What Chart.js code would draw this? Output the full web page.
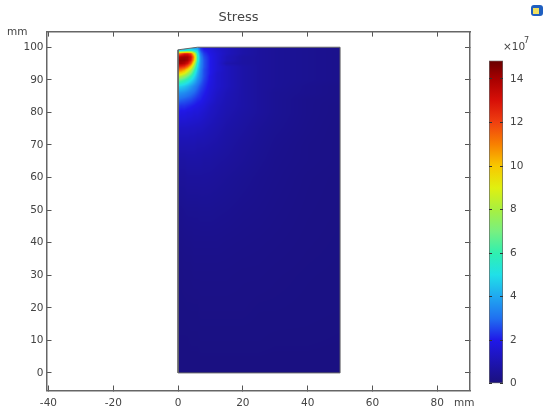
<!DOCTYPE html>
<html>
<head>
<meta charset="utf-8">
<script src="https://cdn.jsdelivr.net/npm/chart.js@4"></script>
<style>
  html, body { margin: 0; padding: 0; background: #fff; }
  canvas { position: absolute; filter: blur(0.4px); }
  #grafico { left: 0; top: 0; }
  #barra { left: 480px; top: 30px; }
  #logo { position: absolute; left: 531px; top: 5px; width: 12px; height: 11px; border-radius: 3px; background: #1f5fc0; filter: blur(0.6px); }
  #logo i { position: absolute; left: 2px; top: 3px; width: 6px; height: 6px; background: #f0e060; }
</style>
</head>
<body>
<canvas id="grafico" width="550" height="411"></canvas>
<canvas id="barra" width="70" height="370"></canvas>
<div id="logo"><i></i></div>
<script>
const xTicks = [-40, -20, 0, 20, 40, 60, 80];
const yTicks = [0, 10, 20, 30, 40, 50, 60, 70, 80, 90, 100];
const barTicks = [0, 2, 4, 6, 8, 10, 12, 14];
const barMax = 14.85;

// contorno da peca, em mm
const contornoX = [0, 50, 50, 6, 0, 0];
const contornoY = [0, 0, 100, 100, 99.2, 0];

// tensao (x 10^7), linhas de cima para baixo
const malhaX = [0, 1, 2, 3, 4, 5, 6, 7, 8, 10, 12, 15, 20, 25, 30, 40, 50];
const malhaY = [100, 99, 98, 97, 96, 95, 94, 93, 92, 91, 90, 88, 86, 84, 82, 80, 75, 70, 65, 60, 50, 40, 30, 20, 10, 0];
const tensao = [
  [4, 4, 4, 4, 4, 3.5, 3.5, 2.2, 1.8, 1.6, 1.4, 1.2, 0.8, 0.6, 0.5, 0.4, 0.3],
  [5, 5, 5, 5.5, 5.5, 5, 4.5, 2.6, 2.1, 1.8, 1.5, 1.2, 0.8, 0.6, 0.5, 0.4, 0.3],
  [11, 12, 12.8, 12.8, 12, 9.2, 5.5, 3.1, 2.4, 1.9, 1.6, 1.2, 0.8, 0.6, 0.5, 0.4, 0.3],
  [13.6, 14, 14.1, 14, 13.2, 10.5, 6, 3.4, 2.6, 2, 1.6, 1.1, 0.7, 0.6, 0.5, 0.4, 0.3],
  [14.3, 14.3, 14.3, 14, 12.8, 10, 5.8, 3.5, 2.7, 2, 1.6, 1.1, 0.7, 0.6, 0.5, 0.4, 0.3],
  [14, 14, 13.7, 13, 11.5, 8.5, 5.2, 3.5, 2.7, 2, 1.6, 0.9, 0.7, 0.6, 0.5, 0.4, 0.3],
  [12.7, 12.5, 12.2, 11.2, 9.6, 7.2, 4.9, 3.4, 2.7, 2, 1.6, 1.2, 0.8, 0.6, 0.5, 0.4, 0.3],
  [11.2, 11, 10.4, 9.3, 8, 6.2, 4.5, 3.3, 2.6, 2, 1.6, 1.2, 0.8, 0.6, 0.5, 0.4, 0.3],
  [9.9, 9.6, 9, 8, 6.9, 5.5, 4.2, 3.2, 2.6, 2, 1.5, 1.2, 0.8, 0.6, 0.5, 0.4, 0.3],
  [8.3, 8, 7.4, 6.7, 5.9, 4.9, 3.9, 3.1, 2.6, 1.9, 1.5, 1.2, 0.8, 0.6, 0.5, 0.4, 0.3],
  [6.9, 6.6, 6.2, 5.7, 5.1, 4.4, 3.6, 3, 2.5, 1.9, 1.5, 1.2, 0.8, 0.6, 0.5, 0.4, 0.3],
  [4.8, 4.7, 4.5, 4.2, 3.8, 3.4, 3, 2.6, 2.3, 1.8, 1.5, 1.2, 0.8, 0.6, 0.5, 0.35, 0.25],
  [3.7, 3.6, 3.5, 3.3, 3.1, 2.9, 2.6, 2.3, 2.1, 1.7, 1.4, 1.1, 0.8, 0.6, 0.45, 0.35, 0.25],
  [3, 2.9, 2.8, 2.7, 2.6, 2.4, 2.2, 2.1, 1.9, 1.6, 1.3, 1.05, 0.8, 0.6, 0.45, 0.3, 0.25],
  [2.4, 2.3, 2.3, 2.2, 2.1, 2, 1.9, 1.8, 1.7, 1.4, 1.2, 1, 0.8, 0.6, 0.45, 0.3, 0.22],
  [2, 1.9, 1.9, 1.8, 1.8, 1.7, 1.7, 1.6, 1.5, 1.3, 1.15, 0.95, 0.75, 0.6, 0.45, 0.3, 0.22],
  [1.3, 1.3, 1.3, 1.3, 1.25, 1.25, 1.2, 1.2, 1.15, 1.05, 0.95, 0.8, 0.65, 0.5, 0.4, 0.28, 0.2],
  [0.95, 0.95, 0.95, 0.95, 0.95, 0.95, 0.9, 0.9, 0.9, 0.85, 0.8, 0.7, 0.55, 0.45, 0.35, 0.25, 0.2],
  [0.7, 0.7, 0.7, 0.75, 0.75, 0.75, 0.75, 0.75, 0.7, 0.7, 0.65, 0.6, 0.5, 0.4, 0.32, 0.25, 0.2],
  [0.55, 0.55, 0.55, 0.6, 0.6, 0.6, 0.6, 0.6, 0.6, 0.58, 0.55, 0.5, 0.42, 0.35, 0.3, 0.22, 0.18],
  [0.35, 0.35, 0.38, 0.4, 0.4, 0.4, 0.4, 0.42, 0.42, 0.42, 0.4, 0.38, 0.33, 0.3, 0.26, 0.2, 0.17],
  [0.25, 0.25, 0.27, 0.28, 0.28, 0.3, 0.3, 0.3, 0.3, 0.3, 0.3, 0.28, 0.26, 0.24, 0.22, 0.18, 0.16],
  [0.18, 0.18, 0.2, 0.2, 0.2, 0.22, 0.22, 0.22, 0.22, 0.22, 0.22, 0.22, 0.2, 0.2, 0.18, 0.16, 0.15],
  [0.15, 0.15, 0.15, 0.16, 0.16, 0.16, 0.16, 0.18, 0.18, 0.18, 0.18, 0.18, 0.18, 0.16, 0.16, 0.15, 0.14],
  [0.12, 0.12, 0.12, 0.12, 0.13, 0.13, 0.13, 0.14, 0.14, 0.14, 0.14, 0.14, 0.14, 0.14, 0.13, 0.13, 0.12],
  [0.1, 0.1, 0.1, 0.1, 0.1, 0.1, 0.1, 0.1, 0.1, 0.1, 0.1, 0.1, 0.1, 0.1, 0.1, 0.1, 0.1]
];

// escala de cores da barra
const niveis = [0, 2, 3, 4, 5, 6, 7, 8, 9, 10, 11, 12, 13, 14, 14.85];
const cores = ["#1a107c", "#2018e8", "#2070f0", "#20a8f0", "#20e0e8", "#30f0b0", "#78f080", "#a8f040", "#e0f010", "#f8c800", "#f88000", "#f04010", "#d81008", "#a80000", "#680000"];

const corRgb = cores.map((c) => [1, 3, 5].map((i) => parseInt(c.substr(i, 2), 16)));

function corDe(v) {
  let i = 0;
  while (i < niveis.length - 2 && v > niveis[i + 1]) i++;
  const t = Math.min(1, Math.max(0, (v - niveis[i]) / (niveis[i + 1] - niveis[i])));
  return corRgb[i].map((c, k) => c + (corRgb[i + 1][k] - c) * t);
}

function acha(lista, v) {
  let i = 0;
  const cresce = lista[1] > lista[0];
  while (i < lista.length - 2 && (cresce ? v > lista[i + 1] : v < lista[i + 1])) i++;
  const t = Math.min(1, Math.max(0, (v - lista[i]) / (lista[i + 1] - lista[i])));
  return [i, t];
}

function tensaoEm(x, y) {
  const [i, tx] = acha(malhaX, x);
  const [j, ty] = acha(malhaY, y);
  const a = tensao[j][i] * (1 - tx) + tensao[j][i + 1] * tx;
  const b = tensao[j + 1][i] * (1 - tx) + tensao[j + 1][i + 1] * tx;
  return a * (1 - ty) + b * ty;
}

const pluginCampo = {
  id: "campo",
  beforeDatasetsDraw(chart) {
    const sx = chart.scales.x, sy = chart.scales.y, ctx = chart.ctx;
    const x0 = Math.floor(sx.getPixelForValue(0)), x1 = Math.ceil(sx.getPixelForValue(50));
    const y0 = Math.floor(sy.getPixelForValue(100)), y1 = Math.ceil(sy.getPixelForValue(0));
    const img = ctx.createImageData(x1 - x0, y1 - y0);
    for (let py = y0; py < y1; py++) {
      for (let px = x0; px < x1; px++) {
        const c = corDe(tensaoEm(sx.getValueForPixel(px + 0.5), sy.getValueForPixel(py + 0.5)));
        const k = ((py - y0) * (x1 - x0) + (px - x0)) * 4;
        img.data[k] = c[0]; img.data[k + 1] = c[1]; img.data[k + 2] = c[2]; img.data[k + 3] = 255;
      }
    }
    const tela = document.createElement("canvas");
    tela.width = x1 - x0; tela.height = y1 - y0;
    tela.getContext("2d").putImageData(img, 0, 0);
    ctx.save();
    ctx.beginPath();
    contornoX.forEach((x, i) => ctx.lineTo(sx.getPixelForValue(x), sy.getPixelForValue(contornoY[i])));
    ctx.clip();
    ctx.drawImage(tela, x0, y0);
    ctx.restore();
  }
};

const pluginTextos = {
  id: "textos",
  afterLayout(chart) {
    // titulo fica deslocado para a esquerda do centro do grafico
    chart.titleBlock.left = 0;
    chart.titleBlock.right = 477;
  },
  afterDraw(chart) {
    const ctx = chart.ctx;
    ctx.save();
    ctx.fillStyle = "#444";
    ctx.font = "10.5px 'DejaVu Sans'";
    ctx.textBaseline = "middle";
    ctx.fillText("mm", 7, 32);
    ctx.fillText("mm", 454, 403);
    ctx.restore();
  }
};

const pluginExpoente = {
  id: "expoente",
  afterDraw(chart) {
    const ctx = chart.ctx;
    ctx.save();
    ctx.fillStyle = "#444";
    ctx.textBaseline = "middle";
    ctx.font = "10.5px 'DejaVu Sans'";
    ctx.fillText("\u00d710", 23, 17);
    ctx.font = "8px 'DejaVu Sans'";
    ctx.fillText("7", 44, 11);
    ctx.restore();
  }
};

function eixo(lista, extra) {
  return Object.assign({
    afterBuildTicks: (s) => { s.ticks = lista.map((v) => ({ value: v })); },
    border: { color: "#666", width: 1.5 },
    grid: { drawOnChartArea: false, tickLength: -5, color: "#555", tickWidth: 1 }
  }, extra);
}

const fonte = { family: "'DejaVu Sans'", size: 10.5 };

new Chart(document.getElementById("grafico"), {
  type: "scatter",
  data: {
    datasets: [{
      label: "Stress",
      data: contornoX.map((x, i) => ({ x: x, y: contornoY[i] })),
      showLine: true,
      tension: 0,
      pointRadius: 0,
      borderColor: "#666",
      borderWidth: 1
    }]
  },
  options: {
    responsive: false,
    animation: false,
    layout: { padding: 0 },
    plugins: {
      legend: { display: false },
      tooltip: { enabled: false },
      title: {
        display: true,
        text: "Stress",
        color: "#444",
        font: { family: "'DejaVu Sans'", size: 13, weight: "normal", lineHeight: 1.2 },
        padding: { top: 10, bottom: 5 }
      }
    },
    scales: {
      x: eixo(xTicks, {
        min: -40.6, max: 90.1,
        afterFit: (s) => { s.height = 20.5; },
        ticks: { color: "#444", font: fonte, padding: 11, maxRotation: 0 }
      }),
      y: eixo(yTicks, {
        min: -5.4, max: 104.8,
        afterFit: (s) => { s.width = 46.5; },
        ticks: { color: "#444", font: fonte, padding: 8 }
      }),
      x2: eixo(xTicks, {
        axis: "x", position: "top", min: -40.6, max: 90.1,
        afterFit: (s) => { s.height = 1; },
        ticks: { display: false }
      }),
      y2: eixo(yTicks, {
        axis: "y", position: "right", min: -5.4, max: 104.8,
        afterFit: (s) => { s.width = 80; },
        ticks: { display: false }
      })
    }
  },
  plugins: [pluginCampo, pluginTextos]
});

new Chart(document.getElementById("barra"), {
  type: "bar",
  data: {
    labels: [""],
    datasets: [{
      data: [[0, barMax]],
      barPercentage: 1,
      categoryPercentage: 1,
      borderColor: "#666",
      borderWidth: 1,
      borderSkipped: false,
      yAxisID: "y",
      backgroundColor: (c) => {
        const area = c.chart.chartArea;
        if (!area) return cores[0];
        const g = c.chart.ctx.createLinearGradient(0, area.bottom, 0, area.top);
        niveis.forEach((n, i) => g.addColorStop(n / barMax, cores[i]));
        return g;
      }
    }]
  },
  options: {
    responsive: false,
    animation: false,
    layout: { padding: { top: 30.5, bottom: 12 } },
    plugins: { legend: { display: false }, tooltip: { enabled: false } },
    scales: {
      x: { display: false },
      y: {
        position: "right", min: 0, max: barMax,
        afterBuildTicks: (s) => { s.ticks = barTicks.map((v) => ({ value: v })); },
        afterFit: (s) => { s.width = 47; },
        border: { display: false },
        grid: { drawOnChartArea: false, tickLength: -3, color: "#333", z: 1 },
        ticks: { color: "#444", font: fonte, padding: 10 }
      },
      y2: {
        axis: "y", position: "left", min: 0, max: barMax,
        afterBuildTicks: (s) => { s.ticks = barTicks.map((v) => ({ value: v })); },
        afterFit: (s) => { s.width = 9; },
        border: { display: false },
        grid: { drawOnChartArea: false, tickLength: -3, color: "#333", z: 1 },
        ticks: { display: false }
      }
    }
  },
  plugins: [pluginExpoente]
});
</script>
</body>
</html>
